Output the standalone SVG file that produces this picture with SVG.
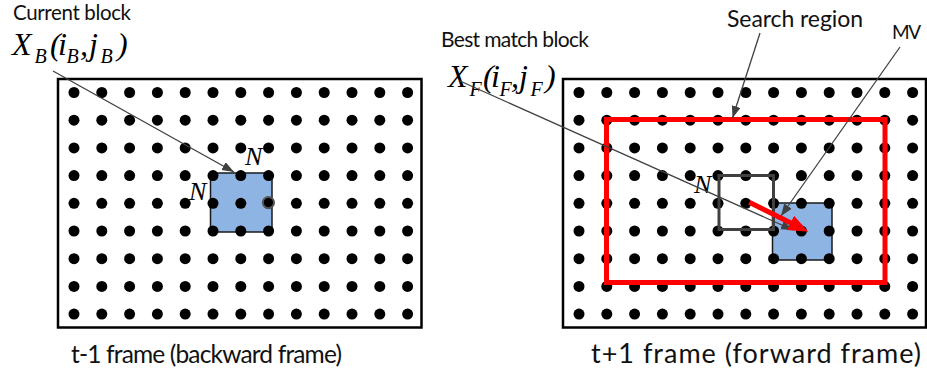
<svg xmlns="http://www.w3.org/2000/svg" width="927" height="377" viewBox="0 0 927 377">
<style>
.frame{fill:#fff;stroke:#000;stroke-width:2.5}
.blk{fill:#8EB4E3;stroke:#1a1a1a;stroke-width:1.5}
.dot{fill:#000}
.lbl{font-family:Lato,"Open Sans",sans-serif;fill:#111}
.m{font-family:"Liberation Serif","Times New Roman",serif;font-style:italic;font-size:32px;fill:#000}
.s{font-size:20px}
.n{font-family:"Liberation Serif","Times New Roman",serif;font-style:italic;font-size:26px;fill:#000}
.conn{stroke:#404040;stroke-width:1.3;fill:none;marker-end:url(#ah)}
</style>
<defs>
<marker id="ah" markerUnits="userSpaceOnUse" markerWidth="13" markerHeight="10" refX="12" refY="4.5" orient="auto">
<path d="M0,0 L12,4.5 L0,9 z" fill="#404040"/>
</marker>
<marker id="ahr" markerUnits="userSpaceOnUse" markerWidth="21" markerHeight="17" refX="4" refY="8" orient="auto">
<path d="M0,0 L20,8 L0,16 z" fill="#FF0000"/>
</marker>
<g id="row">
<circle class="dot" cx="0" cy="0" r="5.5"/><circle class="dot" cx="27.8" cy="0" r="5.5"/><circle class="dot" cx="55.6" cy="0" r="5.5"/><circle class="dot" cx="83.4" cy="0" r="5.5"/><circle class="dot" cx="111.2" cy="0" r="5.5"/><circle class="dot" cx="139" cy="0" r="5.5"/><circle class="dot" cx="166.8" cy="0" r="5.5"/><circle class="dot" cx="194.6" cy="0" r="5.5"/><circle class="dot" cx="222.4" cy="0" r="5.5"/><circle class="dot" cx="250.2" cy="0" r="5.5"/><circle class="dot" cx="278" cy="0" r="5.5"/><circle class="dot" cx="305.8" cy="0" r="5.5"/><circle class="dot" cx="333.6" cy="0" r="5.5"/>
</g>
<g id="grid">
<use href="#row" y="0"/><use href="#row" y="27.7"/><use href="#row" y="55.4"/><use href="#row" y="83.1"/><use href="#row" y="110.8"/><use href="#row" y="138.5"/><use href="#row" y="166.2"/><use href="#row" y="193.9"/><use href="#row" y="221.6"/>
</g>
</defs>
<rect x="0" y="0" width="927" height="377" fill="#fff"/>

<g id="frame-backward">
<rect class="frame" x="58" y="79" width="363.5" height="248.5"/>
<rect id="current-block" class="blk" x="210.5" y="173" width="61.5" height="59"/>
<use href="#grid" x="74" y="92.5"/>
<circle cx="268.4" cy="202.6" r="5.6" fill="#000" stroke="#555" stroke-width="2"/>
<text class="n" x="245" y="165">N</text>
<text class="n" x="189" y="200">N</text>
<text class="lbl" x="71" y="363" font-size="24.5" textLength="271">t-1 frame (backward frame)</text>
</g>

<g id="frame-forward">
<rect class="frame" x="563" y="79" width="363" height="248.5"/>
<rect id="best-match-block" class="blk" x="772.5" y="203" width="59.5" height="57"/>
<use href="#grid" x="579" y="92.5"/>
<rect id="previous-position" x="719" y="175.5" width="54.5" height="54" fill="none" stroke="#404040" stroke-width="3"/>
<rect id="search-region-box" x="606.5" y="119.5" width="278.5" height="163" fill="none" stroke="#FF0000" stroke-width="5"/>
<text class="n" x="694" y="193">N</text>
<text class="lbl" x="591" y="363" font-size="27" textLength="330">t+1 frame (forward frame)</text>
</g>

<g id="label-current">
<text class="lbl" x="13" y="20" font-size="20.5" textLength="118">Current block</text>
<text class="m" y="55"><tspan x="12">X</tspan><tspan class="s" x="34.5" y="63">B</tspan><tspan x="50" y="55">(</tspan><tspan x="58">i</tspan><tspan class="s" x="66.5" y="63">B</tspan><tspan x="80" y="55">,</tspan><tspan x="89">j</tspan><tspan class="s" x="100.5" y="63">B</tspan><tspan x="117" y="55">)</tspan></text>
</g>

<g id="label-best-match">
<text class="lbl" x="441" y="47" font-size="21" textLength="148">Best match block</text>
<text class="m" y="87"><tspan x="448">X</tspan><tspan class="s" x="469.5" y="96">F</tspan><tspan x="483" y="87">(</tspan><tspan x="491">i</tspan><tspan class="s" x="499.5" y="96">F</tspan><tspan x="511" y="87">,</tspan><tspan x="519">j</tspan><tspan class="s" x="530.5" y="96">F</tspan><tspan x="545" y="87">)</tspan></text>
</g>

<g id="label-search">
<text class="lbl" x="727" y="27" font-size="23" textLength="136">Search region</text>
</g>
<g id="label-mv">
<text class="lbl" x="892" y="38.5" font-size="19" textLength="29">MV</text>
</g>

<g id="connectors">
<line class="conn" x1="53" y1="71" x2="234" y2="172"/>
<line class="conn" x1="460" y1="81" x2="793" y2="230"/>
<line class="conn" x1="760" y1="33" x2="732.5" y2="118"/>
<line class="conn" x1="900" y1="47" x2="781" y2="216"/>
<line id="mv-arrow" x1="749.3" y1="202.3" x2="794" y2="224.6" stroke="#FF0000" stroke-width="5" marker-end="url(#ahr)"/>
</g>
</svg>
